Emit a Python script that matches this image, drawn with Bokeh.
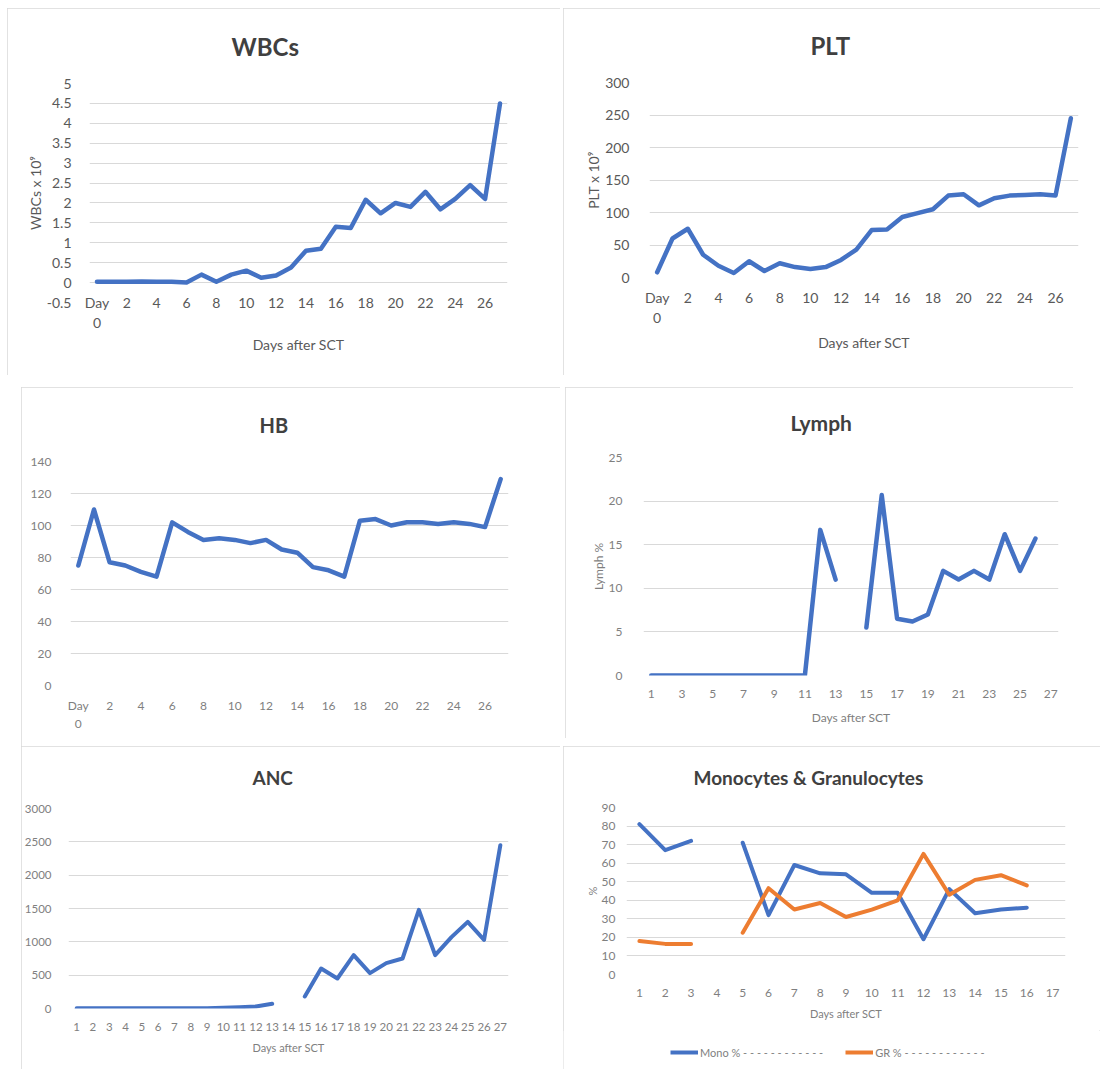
from bokeh.plotting import figure
from bokeh.layouts import column, row
from bokeh.models import Spacer, FixedTicker, Legend, LegendItem, Range1d
from bokeh.embed import file_html
from bokeh.resources import INLINE

FONT = "Lato"
BLUE = "#4472C4"
ORANGE = "#ED7D31"
GRID = "#d9d9d9"
TXT = "#595959"
TXT2 = "#7f7f7f"
TITLE = "#404040"
BOX = {"outline": "1px solid #d9d9d9", "outline-offset": "-1px"}

# ---------------- data ----------------
days_0_27 = [0, 1, 2, 3, 4, 5, 6, 7, 8, 9, 10, 11, 12, 13, 14, 15, 16, 17, 18, 19, 20, 21, 22, 23, 24, 25, 26, 27]
wbc = [0.02, 0.02, 0.02, 0.03, 0.02, 0.02, 0.0, 0.2, 0.02, 0.2, 0.3, 0.12, 0.18, 0.38, 0.8, 0.85,
       1.4, 1.37, 2.08, 1.74, 2.0, 1.9, 2.28, 1.84, 2.1, 2.45, 2.1, 4.5]
plt_vals = [8, 60, 75, 35, 18, 7, 25, 10, 22, 16, 13, 16, 27, 43, 73, 74, 93, 99, 105, 126, 128, 111,
            122, 126, 127, 128, 126, 245]
hb = [75, 110, 77, 75, 71, 68, 102, 96, 91, 92, 91, 89, 91, 85, 83, 74, 72, 68, 103, 104, 100, 102,
      102, 101, 102, 101, 99, 129]

days_1_27 = [1, 2, 3, 4, 5, 6, 7, 8, 9, 10, 11, 12, 13, 14, 15, 16, 17, 18, 19, 20, 21, 22, 23, 24, 25, 26, 27]
lymph = [0, 0, 0, 0, 0, 0, 0, 0, 0, 0, 0, 16.7, 11, None, 5.5, 20.7, 6.5, 6.2, 7, 12, 11, 12, 11,
         16.2, 12, 15.7, None]
anc = [5, 5, 5, 5, 5, 5, 5, 5, 5, 10, 20, 30, 70, None, 180, 600, 450, 800, 530, 680, 750, 1480,
       800, 1070, 1300, 1030, 2450]

days_1_17 = [1, 2, 3, 4, 5, 6, 7, 8, 9, 10, 11, 12, 13, 14, 15, 16, 17]
mono = [81, 67, 72, None, 71, 32, 59, 54.5, 54, 44, 44, 19, 46, 33, 35, 36, None]
gr = [18, 16.5, 16.5, None, 22.5, 46.5, 35, 38.5, 31, 35, 40, 65, 43, 51, 53.5, 48, None]

wbc_yticks = [-0.5, 0, 0.5, 1, 1.5, 2, 2.5, 3, 3.5, 4, 4.5, 5]
plt_yticks = [0, 50, 100, 150, 200, 250, 300]
hb_yticks = [0, 20, 40, 60, 80, 100, 120, 140]
lymph_yticks = [0, 5, 10, 15, 20, 25]
anc_yticks = [0, 500, 1000, 1500, 2000, 2500, 3000]
mono_yticks = [0, 10, 20, 30, 40, 50, 60, 70, 80, 90]
even_days = [0, 2, 4, 6, 8, 10, 12, 14, 16, 18, 20, 22, 24, 26]
odd_days = [1, 3, 5, 7, 9, 11, 13, 15, 17, 19, 21, 23, 25, 27]
legend_labels = ["Mono % - - - - - - - - - - - -", "GR % - - - - - - - - - - - -"]


def nan(vals):
    return [float("nan") if v is None else v for v in vals]


def panel(width, height, fl, fr, ft, fb, xr, yr, yticks, xticks, tick_size, tick_color,
          x_standoff, y_standoff, title, title_size, title_offset, title_standoff,
          xlabel=None, ylabel=None, label_size="13px", xlabel_standoff=8, day0=False, box=True):
    p = figure(width=width, height=height, x_range=Range1d(*xr), y_range=Range1d(*yr),
               output_backend="svg", toolbar_location=None, title=title,
               min_border_left=fl, min_border_right=fr, min_border_top=ft, min_border_bottom=fb)
    p.frame_align = False
    p.outline_line_color = None
    p.background_fill_color = "white"
    p.border_fill_color = "white"
    p.title.align = "left"
    p.title.offset = title_offset
    p.title.standoff = title_standoff
    p.title.vertical_align = "top"
    p.title.text_font = FONT
    p.title.text_font_style = "bold"
    p.title.text_font_size = title_size
    p.title.text_color = TITLE
    p.xgrid.grid_line_color = None
    p.ygrid.grid_line_color = GRID
    p.ygrid.grid_line_width = 1
    p.yaxis.ticker = FixedTicker(ticks=yticks)
    p.xaxis.ticker = FixedTicker(ticks=xticks)
    p.yaxis.major_label_overrides = {v: ("%g" % v) for v in yticks}
    if day0:
        p.xaxis.major_label_overrides = {0: "Day\n0"}
    for ax in (p.xaxis, p.yaxis):
        ax.axis_line_color = None
        ax.major_tick_line_color = None
        ax.minor_tick_line_color = None
        ax.major_label_text_font = FONT
        ax.major_label_text_font_size = tick_size
        ax.major_label_text_color = tick_color
        ax.axis_label_text_font = FONT
        ax.axis_label_text_font_style = "normal"
        ax.axis_label_text_font_size = label_size
        ax.axis_label_text_color = tick_color
    p.xaxis.major_label_standoff = x_standoff
    p.yaxis.major_label_standoff = y_standoff
    if xlabel:
        p.xaxis.axis_label = xlabel
        p.xaxis.axis_label_standoff = xlabel_standoff
    if ylabel:
        p.yaxis.axis_label = ylabel
        p.yaxis.axis_label_standoff = 0
    if box:
        p.styles = BOX
    return p


# ---------------- WBCs ----------------
p1 = panel(553, 367, 82, 53, 75, 73, (-0.5, 27.5), (-0.5, 5), wbc_yticks, even_days,
           "14px", TXT, -15, 12, "WBCs", "24px", 142, 42,
           xlabel="Days after SCT", ylabel="WBCs x 10⁹", label_size="14px", xlabel_standoff=2, day0=True)
p1.line(days_0_27, wbc, line_color=BLUE, line_width=4.5, line_join="round", line_cap="round")

# ---------------- PLT ----------------
p2 = panel(537, 367, 86, 22, 74, 98, (-0.5, 27.5), (0, 300), plt_yticks, even_days,
           "14px", TXT, 5, 14, "PLT", "24px", 161, 42,
           xlabel="Days after SCT", ylabel="PLT x 10⁹", label_size="14px", xlabel_standoff=5, day0=True)
p2.line(days_0_27, plt_vals, line_color=BLUE, line_width=4.5, line_join="round", line_cap="round")

# ---------------- HB ----------------
p3 = panel(539, 359, 49, 52, 74, 61, (-0.5, 27.5), (0, 140), hb_yticks, even_days,
           "12px", TXT2, 6, 13, "HB", "20px", 189, 46, day0=True)
p3.line(days_0_27, hb, line_color=BLUE, line_width=4.5, line_join="round", line_cap="round")

# ---------------- Lymph ----------------
p4 = panel(508, 351, 78, 15, 70, 63, (0.5, 27.5), (0, 25), lymph_yticks, odd_days,
           "12px", TXT2, 8, 15, "Lymph", "21px", 147, 41,
           xlabel="Days after SCT", ylabel="Lymph %", label_size="12px", xlabel_standoff=9)
p4.line(days_1_27, nan(lymph), line_color=BLUE, line_width=4.5, line_join="round", line_cap="round")

# ---------------- ANC ----------------
p5 = panel(539, 323, 47, 52, 62, 61, (0.5, 27.5), (0, 3000), anc_yticks, days_1_27,
           "11.5px", TXT2, 8, 11, "ANC", "19px", 184, 35,
           xlabel="Days after SCT", label_size="11px", xlabel_standoff=7)
p5.line(days_1_27, nan(anc), line_color=BLUE, line_width=4, line_join="round", line_cap="round")

# ---------------- Monocytes & Granulocytes ----------------
p6 = panel(537, 284, 63, 35, 61, 56, (0.5, 17.5), (0, 90), mono_yticks, days_1_17,
           "12px", TXT2, 8, 5, "Monocytes & Granulocytes", "19px", 67, 34,
           xlabel="Days after SCT", ylabel="%", label_size="11px", xlabel_standoff=7, box=False)
p6.line(days_1_17, nan(mono), line_color=BLUE, line_width=4, line_join="round", line_cap="round")
p6.line(days_1_17, nan(gr), line_color=ORANGE, line_width=4, line_join="round", line_cap="round")

# legend strip under the Mono/GR chart (swatch-only renderers with no visible points)
p7 = figure(width=537, height=39, x_range=Range1d(0, 1), y_range=Range1d(0, 1),
            output_backend="svg", toolbar_location=None, x_axis_type=None, y_axis_type=None,
            min_border_left=0, min_border_right=0, min_border_top=0, min_border_bottom=0)
p7.frame_align = False
p7.outline_line_color = None
p7.grid.grid_line_color = None
k_mono = p7.line([float("nan")], [float("nan")], line_color=BLUE, line_width=4)
k_gr = p7.line([float("nan")], [float("nan")], line_color=ORANGE, line_width=4)
legend = Legend(items=[LegendItem(label=legend_labels[0], renderers=[k_mono], index=0),
                       LegendItem(label=legend_labels[1], renderers=[k_gr], index=0)],
                location=(107, 9), orientation="horizontal", border_line_color=None,
                background_fill_alpha=0, padding=0, margin=0, spacing=22, glyph_width=28,
                glyph_height=16, label_height=16,
                label_standoff=2, label_text_font=FONT, label_text_font_size="11px",
                label_text_color=TXT2)
p7.add_layout(legend)

mono_box = column(p6, p7, styles=BOX)

layout = column(
    Spacer(height=8),
    row(Spacer(width=7), p1, Spacer(width=3), p2),
    Spacer(height=12),
    row(Spacer(width=21), p3, Spacer(width=5), p4),
    row(Spacer(width=21), p5, Spacer(width=3), mono_box),
)

open("out.html", "w").write(file_html(layout, INLINE))
